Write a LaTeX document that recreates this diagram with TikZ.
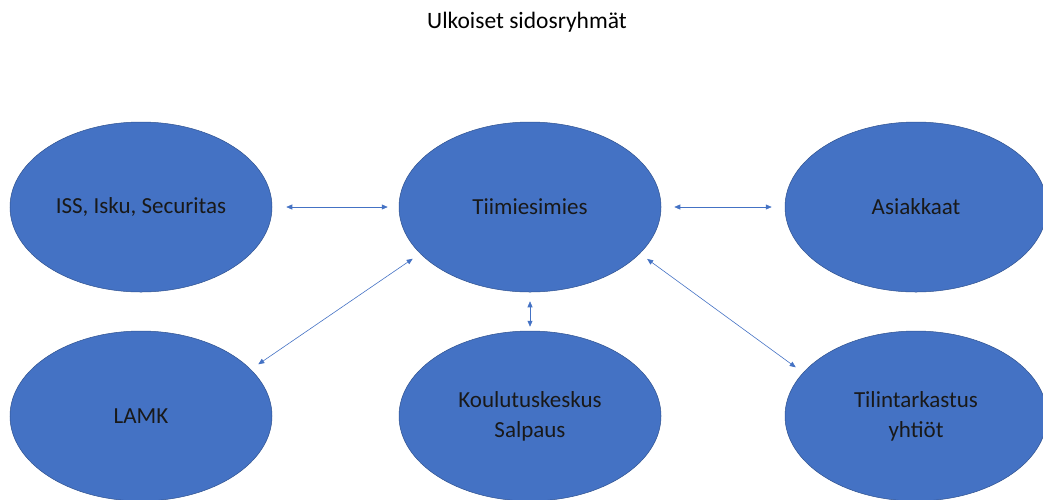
\documentclass[tikz,border=0pt]{standalone}
\usepackage{fontspec}
\setmainfont{Carlito}
\usetikzlibrary{shapes.geometric,arrows.meta}
\definecolor{officeblue}{HTML}{4472C4}
\definecolor{officeedge}{HTML}{2F528F}
\begin{document}
\begin{tikzpicture}[x=1pt,y=-1pt,
    group/.style={ellipse,draw=officeedge,fill=officeblue,line width=0.5pt,
      minimum width=262pt,minimum height=170pt,inner sep=0pt,
      font=\fontsize{23}{30}\selectfont,align=center,text=black!90},
    link/.style={draw=officeblue,line width=0.6pt,
      {Triangle[length=6pt,width=5pt]}-{Triangle[length=6pt,width=5pt]}}]
    \useasboundingbox (0,0) rectangle (1043,499);
    \clip (0,0) rectangle (1043,499);
    % title
    \node (title) at (527,22) {\fontsize{23.5}{28}\selectfont Ulkoiset sidosryhmät};
    % top row
    \node[group] (iss) at (141,207) {ISS, Isku, Securitas};
    \node[group] (tiimi) at (530,207) {Tiimiesimies};
    \node[group] (asiakkaat) at (916,207) {Asiakkaat};
    % bottom row
    \node[group] (lamk) at (141,416) {LAMK};
    \node[group] (koulutus) at (530,416) {Koulutuskeskus\\Salpaus};
    \node[group] (tilin) at (916,416) {Tilintarkastus\\yhtiöt};
    % links
    \draw[link,shorten <=14pt,shorten >=11pt] (iss) -- (tiimi);
    \draw[link,shorten <=13pt,shorten >=13pt] (tiimi) -- (asiakkaat);
    \draw[link,shorten <=9pt,shorten >=9pt] (tiimi.203) -- (lamk.23);
    \draw[link,shorten <=9pt,shorten >=9pt] (tiimi.-23) -- (tilin.159);
    \draw[link,shorten <=9pt,shorten >=4pt] (tiimi.south) -- (koulutus.north);
\end{tikzpicture}
\end{document}
